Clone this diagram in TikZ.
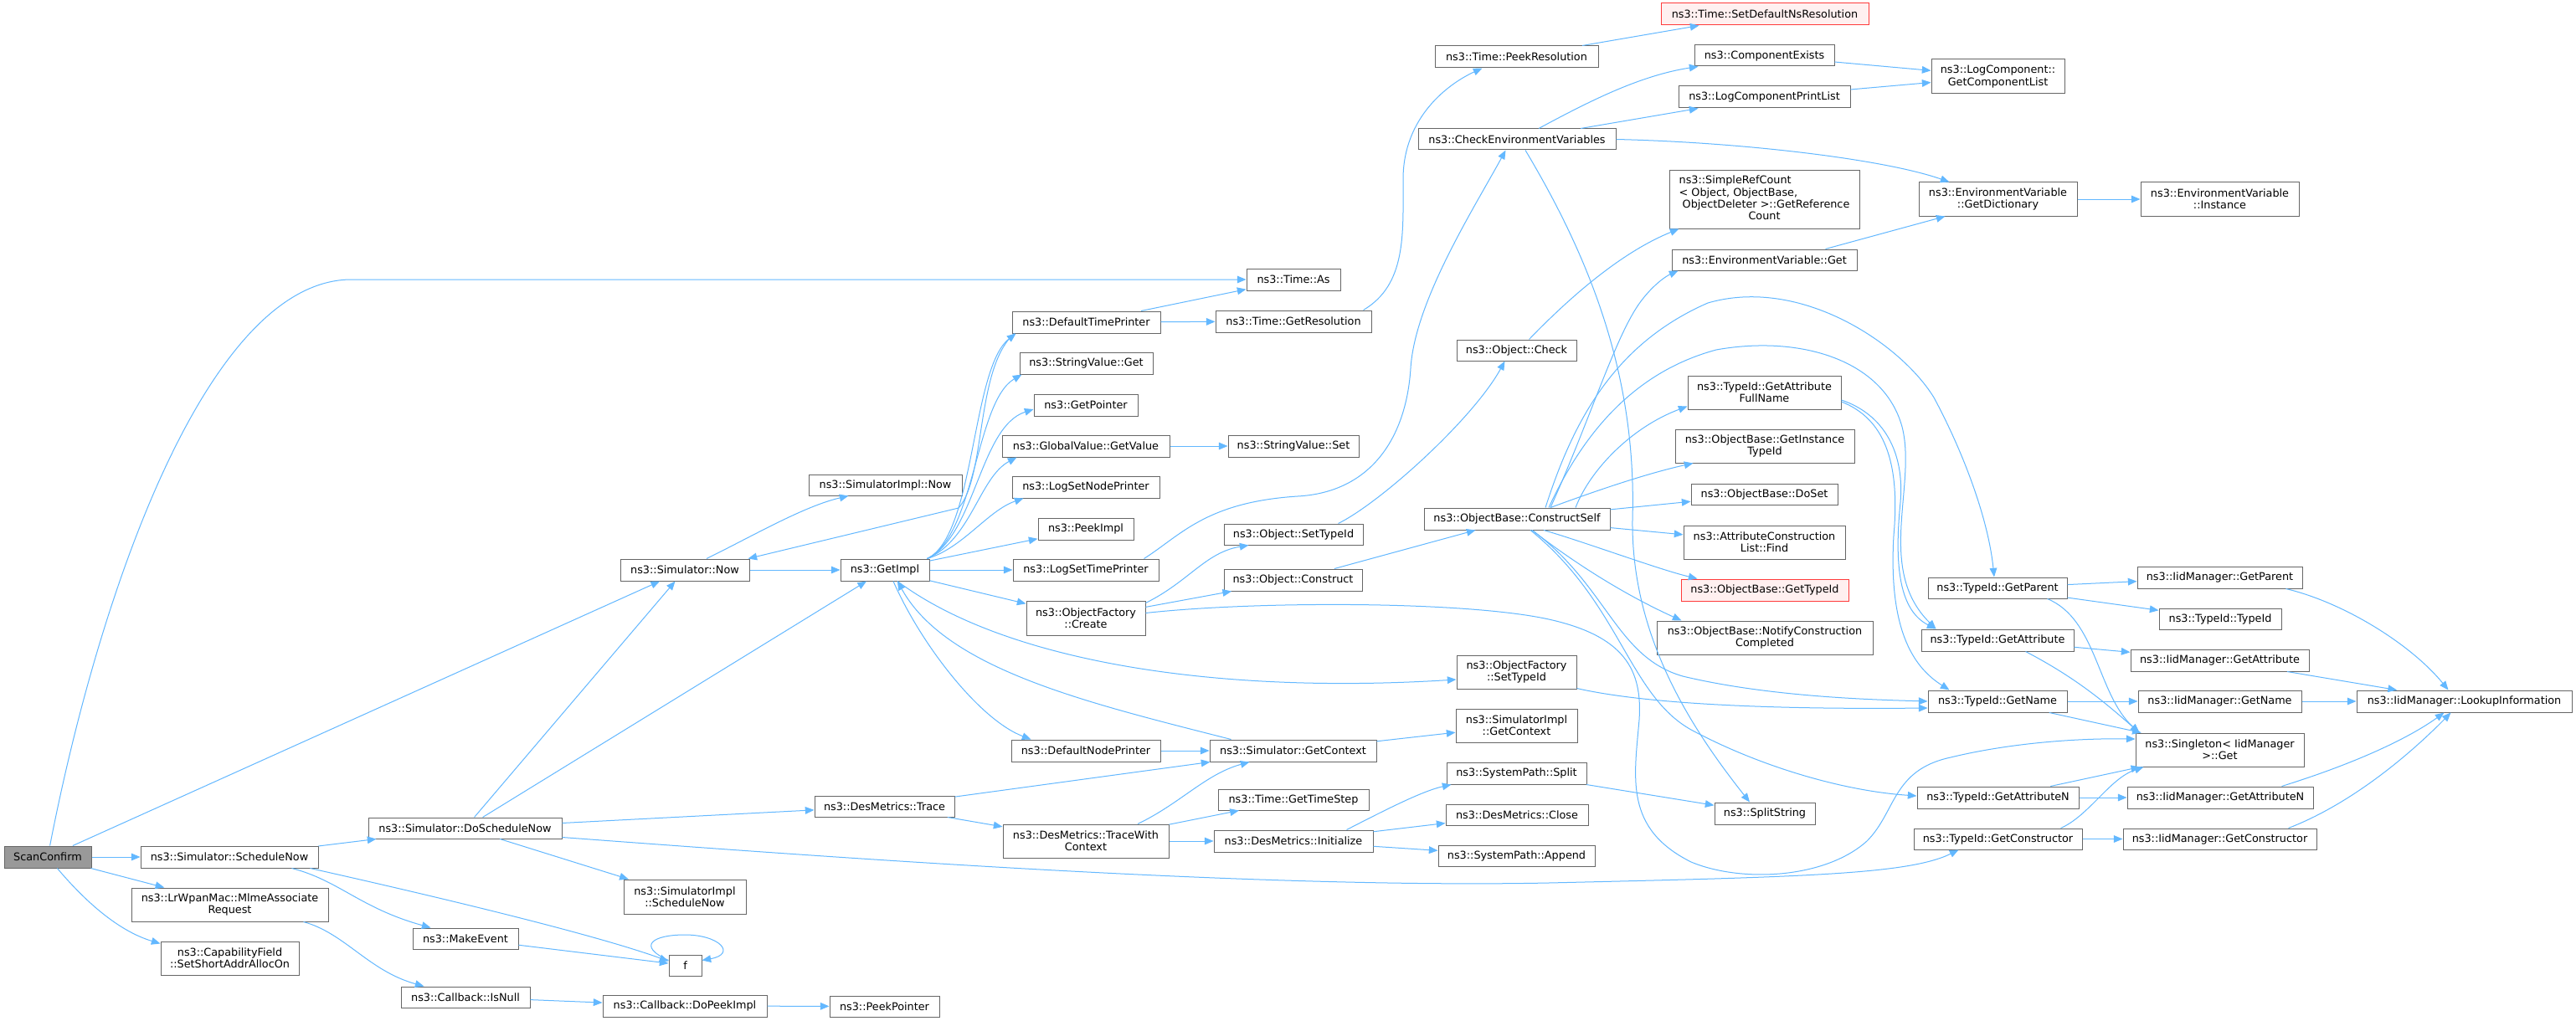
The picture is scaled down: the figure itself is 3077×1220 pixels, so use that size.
\documentclass[tikz,border=0pt]{standalone}
\usepackage{fontspec}
\setmainfont{DejaVu Sans}
\usetikzlibrary{arrows.meta,calc}
\definecolor{edgeblue}{HTML}{63B8FF}
\definecolor{boxgray}{HTML}{666666}
\definecolor{rootfill}{HTML}{999999}
\definecolor{redline}{HTML}{FF3B3B}
\definecolor{redfill}{HTML}{FFF0F0}
\tikzset{
  box/.style={draw=boxgray, fill=white, line width=0.75pt, inner sep=0pt, rectangle, align=center,
    font=\fontsize{9.6}{10.7}\selectfont, text=black},
  rootbox/.style={fill=rootfill},
  redbox/.style={draw=redline, fill=redfill},
  conn/.style={draw=edgeblue, line width=0.75pt, -{Triangle[length=8pt,width=6.5pt]}}
}
\newcommand{\bx}[7][]{\node[box,#1,minimum width={(#5-#3)*0.75pt},minimum height={(#6-#4)*0.75pt}] (#2) at ({(#3+#5)/2},{(#4+#6)/2}) {#7};}
\begin{document}
\begin{tikzpicture}[x=0.75pt,y=-0.75pt]
\fill[white] (0,0) rectangle (3077,1220);
\useasboundingbox (0,0) rectangle (3077,1220);
% ---------- nodes ----------
\bx[rootbox]{sc}{5}{1011}{109}{1037}{ScanConfirm}
\bx{schednow}{168}{1011}{380}{1037}{ns3::Simulator::ScheduleNow}
\bx{mlme}{157}{1061}{392}{1101}{ns3::LrWpanMac::MlmeAssociate\\Request}
\bx{capfield}{192}{1125}{357}{1165}{ns3::CapabilityField\\::SetShortAddrAllocOn}
\bx{dsn}{440}{977}{671}{1002}{ns3::Simulator::DoScheduleNow}
\bx{makeevent}{493}{1109}{619}{1134}{ns3::MakeEvent}
\bx{isnull}{479}{1179}{633}{1204}{ns3::Callback::IsNull}
\bx{simnow}{741}{668}{895}{694}{ns3::Simulator::Now}
\bx{simimplnow}{966}{567}{1149}{592}{ns3::SimulatorImpl::Now}
\bx{simimplsched}{745}{1051}{891}{1092}{ns3::SimulatorImpl\\::ScheduleNow}
\bx{f}{799}{1141}{838}{1166}{f}
\bx{dopeek}{720}{1189}{916}{1215}{ns3::Callback::DoPeekImpl}
\bx{peekptr}{991}{1190}{1122}{1215}{ns3::PeekPointer}
\bx{getimpl}{1004}{668}{1110}{694}{ns3::GetImpl}
\bx{destrace}{973}{951}{1140}{976}{ns3::DesMetrics::Trace}
\bx{timeas}{1489}{321}{1601}{347}{ns3::Time::As}
\bx{dtp}{1209}{372}{1386}{398}{ns3::DefaultTimePrinter}
\bx{getres}{1452}{371}{1638}{397}{ns3::Time::GetResolution}
\bx{svget}{1218}{421}{1377}{447}{ns3::StringValue::Get}
\bx{getptr}{1235}{471}{1359}{497}{ns3::GetPointer}
\bx{gvget}{1197}{520}{1397}{546}{ns3::GlobalValue::GetValue}
\bx{svset}{1467}{520}{1623}{546}{ns3::StringValue::Set}
\bx{lsnp}{1209}{569}{1385}{595}{ns3::LogSetNodePrinter}
\bx{peekimpl}{1240}{619}{1354}{645}{ns3::PeekImpl}
\bx{lstp}{1210}{668}{1384}{694}{ns3::LogSetTimePrinter}
\bx{ofcreate}{1226}{718}{1368}{759}{ns3::ObjectFactory\\::Create}
\bx{dnp}{1208}{884}{1386}{910}{ns3::DefaultNodePrinter}
\bx{getctx}{1445}{884}{1644}{910}{ns3::Simulator::GetContext}
\bx{twc}{1198}{985}{1396}{1025}{ns3::DesMetrics::TraceWith\\Context}
\bx{timestep}{1455}{943}{1635}{968}{ns3::Time::GetTimeStep}
\bx{desinit}{1450}{992}{1640}{1018}{ns3::DesMetrics::Initialize}
\bx{objsettid}{1462}{626}{1628}{651}{ns3::Object::SetTypeId}
\bx{objconstruct}{1462}{680}{1627}{706}{ns3::Object::Construct}
\bx{peekres}{1714}{55}{1909}{81}{ns3::Time::PeekResolution}
\bx[redbox]{setdefns}{1984}{4}{2232}{30}{ns3::Time::SetDefaultNsResolution}
\bx{compexists}{2024}{54}{2191}{79}{ns3::ComponentExists}
\bx{lcpl}{2005}{103}{2210}{129}{ns3::LogComponentPrintList}
\bx{checkenv}{1694}{154}{1930}{179}{ns3::CheckEnvironmentVariables}
\bx{refcount}{1994}{204}{2221}{273}{\begin{tabular}{@{}l@{}}ns3::SimpleRefCount\\< Object, ObjectBase,\\\ ObjectDeleter >::GetReference\\\multicolumn{1}{@{}c@{}}{Count}\end{tabular}}
\bx{envget}{1997}{298}{2218}{323}{ns3::EnvironmentVariable::Get}
\bx{objcheck}{1740}{406}{1883}{431}{ns3::Object::Check}
\bx{getattrfull}{2016}{449}{2199}{489}{ns3::TypeId::GetAttribute\\FullName}
\bx{getinsttid}{2001}{513}{2215}{553}{ns3::ObjectBase::GetInstance\\TypeId}
\bx{cs}{1701}{607}{1923}{633}{ns3::ObjectBase::ConstructSelf}
\bx{doset}{2020}{578}{2195}{603}{ns3::ObjectBase::DoSet}
\bx{acfind}{2011}{628}{2204}{668}{ns3::AttributeConstruction\\List::Find}
\bx[redbox]{obgettid}{2008}{692}{2208}{718}{ns3::ObjectBase::GetTypeId}
\bx{notify}{1979}{742}{2237}{782}{ns3::ObjectBase::NotifyConstruction\\Completed}
\bx{ofsettid}{1740}{783}{1883}{823}{ns3::ObjectFactory\\::SetTypeId}
\bx{simimplctx}{1739}{847}{1884}{887}{ns3::SimulatorImpl\\::GetContext}
\bx{spsplit}{1728}{911}{1895}{937}{ns3::SystemPath::Split}
\bx{desclose}{1727}{961}{1897}{986}{ns3::DesMetrics::Close}
\bx{spappend}{1718}{1010}{1905}{1035}{ns3::SystemPath::Append}
\bx{splitstring}{2048}{959}{2168}{985}{ns3::SplitString}
\bx{getcomplist}{2307}{71}{2466}{112}{ns3::LogComponent::\\GetComponentList}
\bx{getdict}{2292}{218}{2481}{258}{ns3::EnvironmentVariable\\::GetDictionary}
\bx{envinst}{2557}{218}{2746}{258}{ns3::EnvironmentVariable\\::Instance}
\bx{tidparent}{2303}{690}{2469}{715}{ns3::TypeId::GetParent}
\bx{iidparent}{2553}{677}{2750}{703}{ns3::IidManager::GetParent}
\bx{tidtid}{2579}{727}{2725}{752}{ns3::TypeId::TypeId}
\bx{tidattr}{2295}{752}{2477}{778}{ns3::TypeId::GetAttribute}
\bx{iidattr}{2545}{776}{2758}{802}{ns3::IidManager::GetAttribute}
\bx{tidname}{2303}{825}{2469}{851}{ns3::TypeId::GetName}
\bx{iidname}{2554}{825}{2749}{851}{ns3::IidManager::GetName}
\bx{lookup}{2815}{825}{3072}{851}{ns3::IidManager::LookupInformation}
\bx{singleton}{2551}{876}{2752}{916}{ns3::Singleton< IidManager\\ >::Get}
\bx{tidattrn}{2290}{940}{2483}{966}{ns3::TypeId::GetAttributeN}
\bx{iidattrn}{2541}{940}{2763}{966}{ns3::IidManager::GetAttributeN}
\bx{tidctor}{2286}{990}{2487}{1015}{ns3::TypeId::GetConstructor}
\bx{iidctor}{2536}{990}{2767}{1015}{ns3::IidManager::GetConstructor}
% ---------- edges ----------
% ScanConfirm
\draw[conn] (sc) .. controls (120,700) and (250,334) .. (420,334) -- (timeas);
\draw[conn] (sc) -- (simnow);
\draw[conn] (sc) -- (schednow);
\draw[conn] (sc) -- (mlme);
\draw[conn] (sc) .. controls (100,1075) and (140,1112) .. ($(capfield.north west)+(0,3)$);
% ScheduleNow
\draw[conn] (schednow) -- (dsn);
\draw[conn] ($(schednow.south east)+(-10,0)$) .. controls (560,1080) and (720,1120) .. ($(f.west)+(0,-5)$);
\draw[conn] ($(schednow.south east)+(-32,0)$) .. controls (405,1052) and (430,1085) .. ($(makeevent.north west)+(22,0)$);
\draw[conn] ($(mlme.south east)+(-30,0)$) .. controls (412,1115) and (440,1160) .. ($(isnull.north west)+(28,0)$);
% DoScheduleNow
\draw[conn] (dsn) -- (simnow);
\draw[conn] (dsn) -- (getimpl);
\draw[conn] (dsn) -- (destrace);
\draw[conn] (dsn) -- (simimplsched);
\draw[conn] ($(dsn.south east)+(0,-2)$) .. controls (1000,1025) and (1500,1062) .. (1850,1055) .. controls (2150,1048) and (2280,1045) .. ($(tidctor.south west)+(54,0)$);
% f, callbacks
\draw[conn] (makeevent) -- (f);
\draw[conn] ($(f.west)+(0,-6)$) .. controls (760,1130) and (780,1117) .. (818,1117) .. controls (860,1117) and (880,1140) .. ($(f.east)+(0,-6)$);
\draw[conn] (isnull) -- (dopeek);
\draw[conn] (dopeek) -- (peekptr);
% Simulator::Now
\draw[conn] ($(simnow.north)+(26,0)$) .. controls (900,640) and (960,605) .. ($(simimplnow.south west)+(48,0)$);
\draw[conn] (simnow) -- (getimpl);
% GetImpl
\draw[conn] ($(getimpl.north east)+(-3,0)$) .. controls (1165,640) and (1160,440) .. ($(dtp.south west)+(5,0)$);
\draw[conn] ($(getimpl.north east)+(-3,0)$) .. controls (1165,640) and (1165,480) .. ($(svget.south west)+(3,0)$);
\draw[conn] ($(getimpl.north east)+(-3,0)$) .. controls (1165,640) and (1170,510) .. ($(getptr.west)+(0,5)$);
\draw[conn] ($(getimpl.north east)+(-3,0)$) .. controls (1160,645) and (1170,570) .. ($(gvget.south west)+(18,0)$);
\draw[conn] ($(getimpl.north east)+(-3,0)$) .. controls (1150,655) and (1180,610) .. ($(lsnp.south west)+(14,0)$);
\draw[conn] (getimpl) -- (peekimpl);
\draw[conn] (getimpl) -- (lstp);
\draw[conn] (getimpl) -- (ofcreate);
\draw[conn] ($(getimpl.south)+(10,0)$) .. controls (1100,770) and (1170,860) .. ($(dnp.north west)+(24,0)$);
\draw[conn] ($(getimpl.south)+(15,0)$) .. controls (1200,790) and (1450,830) .. ($(ofsettid.west)+(0,9)$);
\draw[conn] ($(getctx.north west)+(26,0)$) .. controls (1300,840) and (1130,800) .. ($(getimpl.south)+(15,0)$);
% DefaultTimePrinter
\draw[conn] ($(dtp.south west)+(3,0)$) .. controls (1165,440) and (1178,570) .. (1145,607) -- ($(simnow.north east)+(-2,0)$);
\draw[conn] (dtp) -- (timeas);
\draw[conn] (dtp) -- (getres);
\draw[conn] ($(getres.north east)+(-10,0)$) .. controls (1680,340) and (1676,280) .. (1676,214) .. controls (1676,140) and (1730,100) .. ($(peekres.south west)+(57,0)$);
\draw[conn] (peekres) -- (setdefns);
\draw[conn] (gvget) -- (svset);
% LogSetTimePrinter
\draw[conn] ($(lstp.north east)+(-18,0)$) .. controls (1410,640) and (1440,600) .. (1550,593) .. controls (1640,588) and (1680,520) .. (1685,440) .. controls (1690,360) and (1760,250) .. ($(checkenv.south west)+(105,0)$);
% ObjectFactory::Create
\draw[conn] ($(ofcreate.north east)+(0,3)$) .. controls (1420,695) and (1440,660) .. ($(objsettid.south west)+(30,0)$);
\draw[conn] (ofcreate) -- (objconstruct);
\draw[conn] ($(ofcreate.east)+(0,-6)$) .. controls (1500,718) and (1750,718) .. (1850,740) .. controls (1940,760) and (1962,800) .. (1958,860) .. controls (1952,930) and (1940,990) .. (2020,1030) .. controls (2080,1055) and (2180,1050) .. (2230,1005) .. controls (2265,970) and (2260,920) .. (2330,905) .. controls (2400,888) and (2480,882) .. ($(singleton.west)+(0,-13)$);
\draw[conn] ($(objsettid.north east)+(-30,0)$) .. controls (1650,600) and (1760,500) .. ($(objcheck.south west)+(58,0)$);
\draw[conn] (objconstruct) -- (cs);
\draw[conn] ($(objcheck.north)+(15,0)$) .. controls (1880,350) and (1940,300) .. ($(refcount.south west)+(12,0)$);
% CheckEnvironmentVariables
\draw[conn] ($(checkenv.north)+(26,0)$) .. controls (1900,120) and (1960,90) .. ($(compexists.south west)+(5,0)$);
\draw[conn] (checkenv) -- (lcpl);
\draw[conn] (checkenv.east) .. controls (2080,170) and (2250,190) .. ($(getdict.north west)+(37,0)$);
\draw[conn] ($(checkenv.south)+(10,0)$) .. controls (1900,310) and (1955,450) .. (1950,620) .. controls (1948,760) and (2020,870) .. ($(splitstring.north)+(-18,0)$);
\draw[conn] (compexists) -- (getcomplist);
\draw[conn] (lcpl) -- (getcomplist);
\draw[conn] ($(envget.north east)+(-38,0)$) -- ($(getdict.south west)+(32,0)$);
\draw[conn] (getdict) -- (envinst);
% ConstructSelf
\draw[conn] ($(cs.north)+(40,0)$) .. controls (1900,500) and (1930,400) .. (1960,360) .. controls (1975,340) and (1990,330) .. ($(envget.south west)+(8,0)$);
\draw[conn] ($(cs.north)+(34,0)$) .. controls (1880,500) and (1930,410) .. (2040,362) .. controls (2150,330) and (2270,410) .. (2310,475) .. controls (2345,540) and (2375,620) .. ($(tidparent.north)+(-4,0)$);
\draw[conn] ($(cs.north)+(38,0)$) .. controls (1890,520) and (1950,445) .. (2050,418) .. controls (2150,400) and (2250,430) .. (2272,510) .. controls (2290,580) and (2240,680) .. ($(tidattr.north west)+(18,0)$);
\draw[conn] ($(cs.north)+(70,0)$) .. controls (1900,560) and (1950,510) .. ($(getattrfull.south west)+(0,-4)$);
\draw[conn] ($(cs.north)+(40,0)$) .. controls (1910,585) and (1970,565) .. ($(getinsttid.south west)+(22,0)$);
\draw[conn] (cs) -- (doset);
\draw[conn] (cs) -- (acfind);
\draw[conn] ($(cs.south)+(32,0)$) .. controls (1900,650) and (1980,680) .. ($(obgettid.north west)+(20,0)$);
\draw[conn] ($(cs.south)+(18,0)$) .. controls (1890,680) and (1950,715) .. ($(notify.north west)+(30,0)$);
\draw[conn] ($(cs.south)+(18,0)$) .. controls (1920,700) and (1930,785) .. (2010,808) .. controls (2110,832) and (2230,836) .. (tidname.west);
\draw[conn] ($(cs.south)+(16,0)$) .. controls (1935,720) and (1945,830) .. (2020,872) .. controls (2100,915) and (2200,945) .. ($(tidattrn.west)+(0,-2)$);
\draw[conn] ($(getattrfull.east)+(0,9)$) .. controls (2250,495) and (2275,540) .. (2270,600) .. controls (2262,680) and (2270,730) .. ($(tidattr.north west)+(18,0)$);
\draw[conn] ($(getattrfull.east)+(0,11)$) .. controls (2250,500) and (2270,550) .. (2262,640) .. controls (2255,760) and (2290,800) .. ($(tidname.north west)+(26,0)$);
\draw[conn] ($(ofsettid.south east)+(0,-1)$) .. controls (1960,840) and (2100,848) .. ($(tidname.west)+(0,8)$);
% Context / metrics
\draw[conn] (getctx) -- (simimplctx);
\draw[conn] (destrace) -- (getctx);
\draw[conn] (destrace) -- (twc);
\draw[conn] ($(twc.north)+(62,0)$) .. controls (1410,960) and (1440,925) .. ($(getctx.south west)+(48,0)$);
\draw[conn] (dnp) -- (getctx);
\draw[conn] (twc) -- (timestep);
\draw[conn] (twc) -- (desinit);
\draw[conn] ($(desinit.north east)+(-32,0)$) .. controls (1660,965) and (1700,945) .. ($(spsplit.south west)+(6,0)$);
\draw[conn] (desinit) -- (desclose);
\draw[conn] (desinit) -- (spappend);
\draw[conn] (spsplit) -- (splitstring);
% TypeId / IidManager
\draw[conn] (tidparent) -- (iidparent);
\draw[conn] (tidparent) -- (tidtid);
\draw[conn] ($(tidparent.south east)+(-24,0)$) .. controls (2505,740) and (2505,830) .. ($(singleton.north west)+(5,0)$);
\draw[conn] (tidattr) -- (iidattr);
\draw[conn] ($(tidattr.south east)+(-58,0)$) .. controls (2480,810) and (2515,840) .. ($(singleton.north west)+(5,0)$);
\draw[conn] (tidname) -- (iidname);
\draw[conn] (tidname) -- (singleton);
\draw[conn] (tidattrn) -- (iidattrn);
\draw[conn] (tidattrn) -- (singleton);
\draw[conn] (tidctor) -- (iidctor);
\draw[conn] ($(tidctor.north east)+(-26,0)$) .. controls (2495,975) and (2520,930) .. ($(singleton.south west)+(10,0)$);
\draw[conn] ($(iidparent.south east)+(-20,0)$) .. controls (2800,720) and (2880,770) .. ($(lookup.north west)+(110,0)$);
\draw[conn] (iidattr) -- (lookup);
\draw[conn] (iidname) -- (lookup);
\draw[conn] ($(iidattrn.north east)+(-38,0)$) .. controls (2820,910) and (2880,880) .. ($(lookup.south west)+(105,0)$);
\draw[conn] ($(iidctor.north east)+(-34,0)$) .. controls (2810,960) and (2880,900) .. ($(lookup.south west)+(113,0)$);
\end{tikzpicture}
\end{document}
